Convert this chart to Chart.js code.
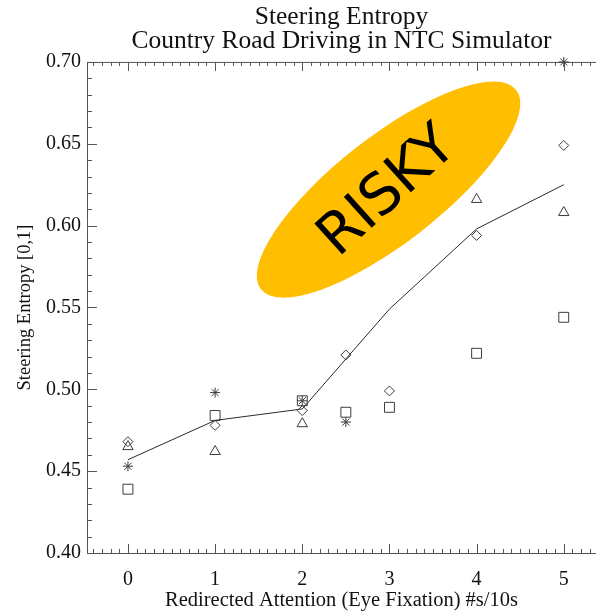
<!DOCTYPE html>
<html>
<head>
<meta charset="utf-8">
<script src="https://cdn.jsdelivr.net/npm/chart.js@4.4.1/dist/chart.umd.min.js"></script>
<style>
  html, body { margin: 0; padding: 0; background: #ffffff; }
  canvas { display: block; }
</style>
</head>
<body>
<canvas id="c" width="596" height="613"></canvas>
<script>
// Tick positions
const xTicks = [0, 1, 2, 3, 4, 5];
const yTicks = [0.40, 0.45, 0.50, 0.55, 0.60, 0.65, 0.70];

// Steering entropy per redirected-attention level, one array pair per marker group
const diamondX = [0, 1, 2, 2.5, 3, 4, 5];
const diamondY = [0.468, 0.478, 0.487, 0.521, 0.499, 0.594, 0.649];

const triangleX = [0, 1, 2, 4, 5];
const triangleY = [0.465, 0.462, 0.479, 0.616, 0.608];

const squareX = [0, 1, 2, 2.5, 3, 4, 5];
const squareY = [0.439, 0.484, 0.493, 0.486, 0.489, 0.522, 0.544];

const starX = [0, 1, 2, 2.5, 5];
const starY = [0.453, 0.498, 0.493, 0.480, 0.700];

// Trend line
const trendX = [0, 1, 2, 3, 4, 5];
const trendY = [0.457, 0.481, 0.488, 0.549, 0.598, 0.625];

// "RISKY" zone, anchored at a data position
const riskZone = { x: 2.99, y: 0.622, rx: 162, ry: 53, angle: -38, text: 'RISKY', textAngle: -42 };

const pairs = (xs, ys) => xs.map((x, i) => ({ x: x, y: ys[i] }));
const SERIF = '"Liberation Serif", "Times New Roman", serif';
const INK = '#3c3c3c';

const riskPlugin = {
  id: 'riskZone',
  beforeDatasetsDraw(chart) {
    const { ctx, scales } = chart;
    const cx = scales.x.getPixelForValue(riskZone.x);
    const cy = scales.y.getPixelForValue(riskZone.y);
    ctx.save();
    ctx.translate(cx, cy);
    ctx.rotate(riskZone.angle * Math.PI / 180);
    ctx.beginPath();
    ctx.ellipse(0, 0, riskZone.rx, riskZone.ry, 0, 0, Math.PI * 2);
    ctx.fillStyle = '#FFBE00';
    ctx.fill();
    ctx.restore();
    ctx.save();
    ctx.translate(cx, cy + 3);
    ctx.rotate(riskZone.textAngle * Math.PI / 180);
    ctx.font = '57px "DejaVu Sans", sans-serif';
    ctx.fillStyle = '#000000';
    ctx.textAlign = 'center';
    ctx.textBaseline = 'middle';
    ctx.fillText(riskZone.text, 0, 0);
    ctx.restore();
  }
};

// Frame with inward major/minor ticks on left, bottom and top
const framePlugin = {
  id: 'frameTicks',
  beforeDatasetsDraw(chart) {
    const { ctx, chartArea: a, scales } = chart;
    const xs = scales.x, ys = scales.y;
    const edge = chart.width;
    const xEnd = xs.getValueForPixel(edge);
    ctx.save();
    ctx.strokeStyle = '#555555';
    ctx.lineWidth = 1;
    ctx.beginPath();
    ctx.moveTo(edge, a.top + 0.5);
    ctx.lineTo(a.left + 0.5, a.top + 0.5);
    ctx.lineTo(a.left + 0.5, a.bottom + 0.5);
    ctx.lineTo(edge, a.bottom + 0.5);
    // x ticks every 0.1, longer at integers
    for (let k = Math.ceil(xs.min * 10); k <= Math.floor(xEnd * 10); k++) {
      const px = Math.round(xs.getPixelForValue(k / 10)) + 0.5;
      const len = (k % 10 === 0) ? 9 : 4;
      ctx.moveTo(px, a.bottom);
      ctx.lineTo(px, a.bottom - len);
      ctx.moveTo(px, a.top);
      ctx.lineTo(px, a.top + len);
    }
    // y ticks every 0.01, longer at 0.05
    for (let k = 40; k <= 70; k++) {
      const py = Math.round(ys.getPixelForValue(k / 100)) + 0.5;
      const len = (k % 5 === 0) ? 10 : 5;
      ctx.moveTo(a.left, py);
      ctx.lineTo(a.left + len, py);
    }
    ctx.stroke();
    ctx.restore();
  }
};

const markerBase = {
  showLine: false,
  borderColor: INK,
  backgroundColor: 'rgba(0,0,0,0)',
  borderWidth: 1,
  pointBorderWidth: 1,
  clip: false
};

new Chart(document.getElementById('c'), {
  type: 'scatter',
  data: {
    datasets: [
      { label: 'trend', data: pairs(trendX, trendY), showLine: true, pointRadius: 0,
        borderColor: '#2a2a2a', borderWidth: 1, tension: 0, fill: false, clip: false },
      Object.assign({}, markerBase, { label: 'diamond', data: pairs(diamondX, diamondY), pointStyle: 'rectRot', pointRadius: 5 }),
      Object.assign({}, markerBase, { label: 'triangle', data: pairs(triangleX, triangleY), pointStyle: 'triangle', pointRadius: 6 }),
      Object.assign({}, markerBase, { label: 'square', data: pairs(squareX, squareY), pointStyle: 'rect', pointRadius: 7 }),
      Object.assign({}, markerBase, { label: 'star', data: pairs(starX, starY), pointStyle: 'star', pointRadius: 5 })
    ]
  },
  options: {
    responsive: false,
    animation: false,
    events: [],
    layout: { padding: 0, autoPadding: false },
    plugins: {
      legend: { display: false },
      tooltip: { enabled: false },
      title: {
        display: true,
        fullSize: false,
        text: ['Steering Entropy', 'Country Road Driving in NTC Simulator'],
        color: '#111111',
        font: { family: SERIF, size: 25.5, weight: 'normal', lineHeight: 0.94 },
        padding: { top: 5, bottom: 9 }
      }
    },
    scales: {
      x: {
        type: 'linear',
        min: -0.47,
        max: 5.37,
        grid: { display: false, drawTicks: false },
        border: { display: false },
        afterBuildTicks(scale) { scale.ticks = xTicks.map(v => ({ value: v })); },
        afterFit(scale) {
          scale.height = 60;
          scale.paddingLeft = 0;
          scale.paddingRight = 0;
        },
        ticks: {
          color: '#111111',
          padding: 15,
          font: { family: SERIF, size: 20 },
          callback: v => String(v)
        },
        title: {
          display: true,
          text: 'Redirected Attention (Eye Fixation) #s/10s',
          color: '#111111',
          font: { family: SERIF, size: 20.5 },
          padding: { top: 0, bottom: 0 }
        }
      },
      y: {
        type: 'linear',
        min: 0.40,
        max: 0.70,
        grid: { display: false, drawTicks: false },
        border: { display: false },
        afterBuildTicks(scale) { scale.ticks = yTicks.map(v => ({ value: v })); },
        afterFit(scale) {
          scale.width = 87;
          scale.paddingTop = 0;
          scale.paddingBottom = 0;
        },
        ticks: {
          color: '#111111',
          padding: 6,
          font: { family: SERIF, size: 20 },
          callback: v => Number(v).toFixed(2)
        },
        title: {
          display: true,
          text: 'Steering Entropy [0,1]',
          color: '#111111',
          font: { family: SERIF, size: 18.5 },
          padding: { top: 14, bottom: 0 }
        }
      }
    }
  },
  plugins: [framePlugin, riskPlugin]
});
</script>
</body>
</html>
